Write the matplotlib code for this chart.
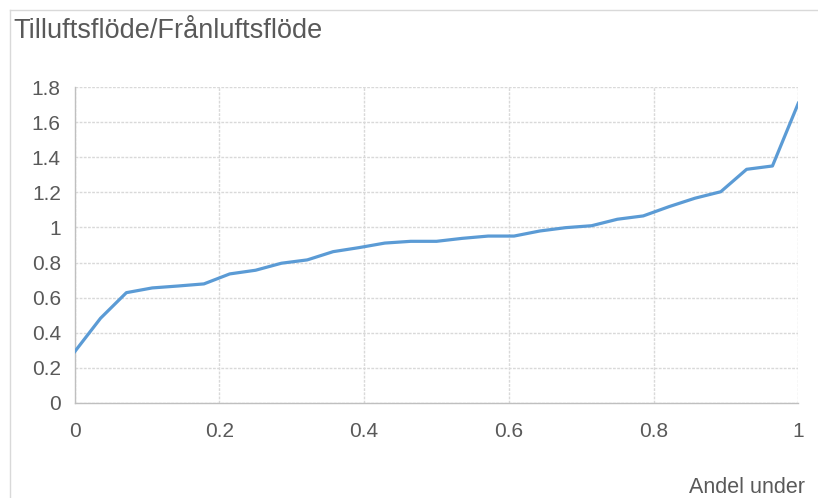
import matplotlib
matplotlib.use("Agg")
import matplotlib.pyplot as plt
from matplotlib.lines import Line2D
import numpy as np

# Data
x_share = [i / 28 for i in range(29)]
ratio = [0.291, 0.482, 0.628, 0.655, 0.666, 0.678, 0.735, 0.756, 0.796, 0.815,
         0.862, 0.885, 0.911, 0.921, 0.921, 0.938, 0.951, 0.951, 0.980, 0.999,
         1.010, 1.047, 1.066, 1.119, 1.167, 1.204, 1.332, 1.351, 1.709]
x_ticks = [0, 0.2, 0.4, 0.6, 0.8, 1]
x_ticklabels = ["0", "0.2", "0.4", "0.6", "0.8", "1"]
y_ticks = [0, 0.2, 0.4, 0.6, 0.8, 1, 1.2, 1.4, 1.6, 1.8]
y_ticklabels = ["0", "0.2", "0.4", "0.6", "0.8", "1", "1.2", "1.4", "1.6", "1.8"]
title = "Tilluftsflöde/Frånluftsflöde"
xlabel = "Andel under"

plt.rcParams['font.family'] = ['Liberation Sans', 'DejaVu Sans']
W, H = 818, 498
fig = plt.figure(figsize=(W / 100, H / 100), dpi=100)
fig.patch.set_facecolor("white")

ax = fig.add_axes([74.7 / W, 1 - 402.7 / H, (798.3 - 74.7) / W, (402.7 - 87.3) / H])
ax.plot(x_share, ratio, color="#5B9BD5", lw=2.3, solid_joinstyle="round", zorder=3)
ax.set_xlim(0, 1)
ax.set_ylim(0, 1.8)
ax.set_xticks(x_ticks)
ax.set_xticklabels(x_ticklabels)
ax.set_yticks(y_ticks)
ax.set_yticklabels(y_ticklabels)
ax.grid(True, color="#d9d9d9", lw=1.0, linestyle=(0, (2, 1)))
ax.set_axisbelow(True)
for s in ["top", "right"]:
    ax.spines[s].set_visible(False)
for s in ["left", "bottom"]:
    ax.spines[s].set_color("#bfbfbf")
    ax.spines[s].set_linewidth(1.0)
ax.tick_params(axis="both", length=0, labelsize=15, colors="#595959")
ax.tick_params(axis="x", pad=14)
ax.tick_params(axis="y", pad=10)

fig.text(13 / W, 1 - 31 / H, title, fontsize=19.5, color="#595959", ha="left", va="center")
fig.text(805 / W, 1 - 487 / H, xlabel, fontsize=15.5, color="#595959", ha="right", va="center")

# outer chart border (left and top visible)
fig.add_artist(Line2D([10 / W, 10 / W], [0, 1 - 10 / H], transform=fig.transFigure,
                      color="#d9d9d9", lw=1.0))
fig.add_artist(Line2D([10 / W, 1], [1 - 10 / H, 1 - 10 / H], transform=fig.transFigure,
                      color="#d9d9d9", lw=1.0))

fig.savefig("out.png", dpi=100)
